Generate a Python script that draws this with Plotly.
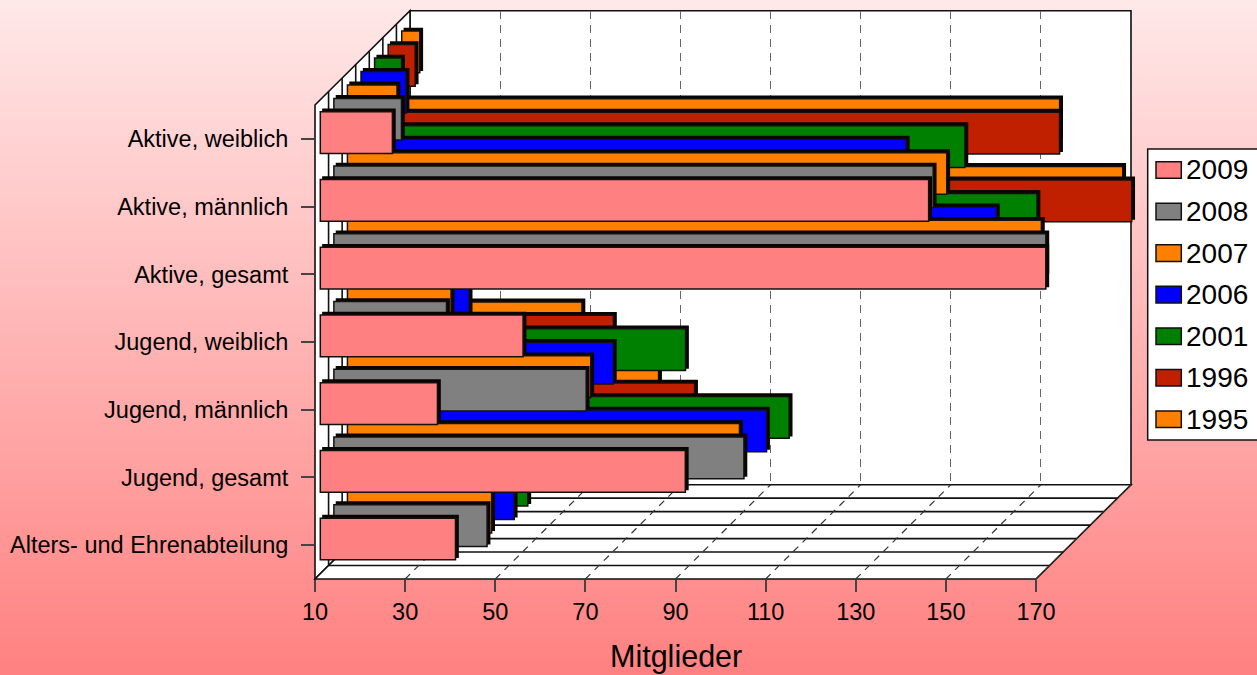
import plotly.graph_objects as go

categories = ["Alters- und Ehrenabteilung", "Jugend, gesamt", "Jugend, männlich", "Jugend, weiblich",
              "Aktive, gesamt", "Aktive, männlich", "Aktive, weiblich"]
v2009 = [40, 91, 36, 55, 171, 145, 26]
v2008 = [44, 101, 66, 35, 168, 143, 25]
v2007 = [42, 97, 64, 33, 164, 143, 21]
v2006 = [44, 100, 66, 34, 151, 131, 20]
v2001 = [44, 102, 79, 23, 157, 141, 16]
v1996 = [40, 78, 60, 18, 175, 159, 16]
v1995 = [38, 67, 50, 17, 170, 156, 14]
series_names = ["2009", "2008", "2007", "2006", "2001", "1996", "1995"]
series_values = [v2009, v2008, v2007, v2006, v2001, v1996, v1995]
colors = ["#FF8080", "#808080", "#FF8000", "#0000FF", "#008000", "#C02000", "#FF8000"]
x_ticks = [10, 30, 50, 70, 90, 110, 130, 150, 170]
x_title = "Mitglieder"

W, H = 1257, 675
FONT = "Liberation Sans"
FX0, FX1, FY0, FY1 = 315.0, 1036.0, 105.0, 579.0     # front plane (px)
DEPTH_X, DEPTH_Y = 95.0, 94.3
N = len(series_names)
STEP_X, STEP_Y = DEPTH_X / N, DEPTH_Y / N
PX_PER_UNIT = (FX1 - FX0) / (x_ticks[-1] - x_ticks[0])
CAT_H = (FY1 - FY0) / len(categories)
BAR_X0, BAR_BOTTOM_CENTER = 320.3, 539.0
BAR_W = 41.7 / CAT_H
SHADOW = 2.6


def px(x):
    return x / W


def py(y):
    return 1 - y / H


shapes = []
# background gradient: each band runs to the bottom so no seams show
G_TOP, G_BOTTOM = 232, 128
bands = G_TOP - G_BOTTOM
for k in range(bands):
    g = G_TOP - k
    shapes.append(dict(type="rect", xref="paper", yref="paper", layer="below",
                       x0=0, x1=1, y0=py(H * k / bands), y1=0,
                       fillcolor=f"rgb(255,{g},{g})", line=dict(width=0)))

EDGE = dict(color="#111111", width=1.6)
def poly(points, **kw):
    d = "M" + "L".join(f"{px(a)},{py(b)}" for a, b in points) + "Z"
    shapes.append(dict(type="path", path=d, xref="paper", yref="paper", layer="below", **kw))


def seg(a, b, c, d, line):
    shapes.append(dict(type="line", xref="paper", yref="paper", layer="below",
                       x0=px(a), y0=py(b), x1=px(c), y1=py(d), line=line))


BX0, BX1, BY0, BY1 = FX0 + DEPTH_X, FX1 + DEPTH_X, FY0 - DEPTH_Y, FY1 - DEPTH_Y
# walls and floor
poly([(BX0, BY0), (BX1, BY0), (BX1, BY1), (BX0, BY1)], fillcolor="white", line=EDGE)
poly([(FX0, FY0), (BX0, BY0), (BX0, BY1), (FX0, FY1)], fillcolor="white", line=EDGE)
poly([(FX0, FY1), (FX1, FY1), (BX1, BY1), (BX0, BY1)], fillcolor="white", line=EDGE)
for k in range(1, N):
    dx, dy = STEP_X * k, STEP_Y * k
    seg(FX0 + dx, FY0 - dy, FX0 + dx, FY1 - dy, EDGE)        # left wall
    seg(FX0 + dx, FY1 - dy, FX1 + dx, FY1 - dy, EDGE)        # floor
for t in x_ticks[1:]:
    fx = FX0 + (t - x_ticks[0]) * PX_PER_UNIT
    seg(fx, FY1, fx + DEPTH_X, BY1, dict(color="#333333", width=1.2, dash="7px,6px"))

# legend (drawn to match the boxed legend of the reference)
LX0, LY0, LY1 = 1147.7, 149.0, 440.0
shapes.append(dict(type="rect", xref="paper", yref="paper", layer="below",
                   x0=px(LX0), x1=1.01, y0=py(LY0), y1=py(LY1),
                   fillcolor="white", line=dict(color="#111111", width=1.5)))
annotations = [dict(xref="paper", yref="paper", x=px(675.5), y=py(656), text=x_title,
                    showarrow=False, xanchor="center", yanchor="middle",
                    font=dict(family=FONT, size=30.5, color="black"))]
for i, name in enumerate(series_names):
    yc = 170 + 41.55 * i
    shapes.append(dict(type="rect", xref="paper", yref="paper", layer="below",
                       x0=px(1156), x1=px(1181.3), y0=py(yc - 8.3), y1=py(yc + 8.3),
                       fillcolor=colors[i], line=dict(color="#111111", width=1.5)))
    annotations.append(dict(xref="paper", yref="paper", x=px(1217), y=py(yc), text=name,
                            showarrow=False, xanchor="center", yanchor="middle",
                            font=dict(family=FONT, size=28, color="black")))

layout = dict(
    width=W, height=H, margin=dict(l=0, r=0, t=0, b=0, autoexpand=False),
    paper_bgcolor="rgba(0,0,0,0)", plot_bgcolor="rgba(0,0,0,0)",
    showlegend=False, barmode="overlay", shapes=shapes, annotations=annotations,
    font=dict(family=FONT, color="black"),
    # front axes: ticks and labels
    xaxis=dict(domain=[px(FX0), px(FX1)], range=[x_ticks[0], x_ticks[-1]], anchor="y",
               tickmode="array", tickvals=x_ticks, ticks="outside", ticklen=12, tickwidth=1.5,
               tickcolor="#444444", showgrid=False, zeroline=False, showline=False,
               tickfont=dict(family=FONT, size=23.5, color="black")),
    yaxis=dict(domain=[py(FY1), py(FY0)], range=[-0.5, len(categories) - 0.5], anchor="x",
               tickmode="array", tickvals=list(range(len(categories))), ticktext=categories,
               ticks="outside", ticklen=13, tickwidth=1.5, tickcolor="#444444",
               showgrid=False, zeroline=False, showline=False, ticklabelstandoff=8,
               tickfont=dict(family=FONT, size=23.5, color="black")),
    # back wall: dashed grid lines
    xaxis2=dict(domain=[px(BX0), px(BX1)], range=[x_ticks[0], x_ticks[-1]], anchor="y2",
                tickmode="array", tickvals=x_ticks[1:-1] + [x_ticks[-1]], showticklabels=False, ticks="",
                showgrid=True, gridcolor="#666666", gridwidth=1.4, griddash="8px,6px",
                zeroline=False, showline=False),
    yaxis2=dict(domain=[py(BY1), py(BY0)], range=[0, 1], anchor="x2", showticklabels=False,
                ticks="", showgrid=False, zeroline=False, showline=False),
)

traces = [
    go.Scatter(x=[], y=[], xaxis="x", yaxis="y", showlegend=False),
    go.Scatter(x=[], y=[], xaxis="x2", yaxis="y2", showlegend=False),
]

axis_no = 3
for i in range(N - 1, -1, -1):  # back to front
    vals = series_values[i]
    lengths = [v - x_ticks[0] for v in vals]
    for shadow in (True, False):
        off = SHADOW if shadow else 0.0
        start = BAR_X0 + STEP_X * i + off
        PAD = 5
        left = start - PAD * PX_PER_UNIT
        right = W - 1
        bottom = BAR_BOTTOM_CENTER + CAT_H / 2 - STEP_Y * i - off
        top = bottom - (FY1 - FY0)
        layout[f"xaxis{axis_no}"] = dict(domain=[px(left), px(right)], anchor=f"y{axis_no}", visible=False,
                                         range=[x_ticks[0] - PAD, x_ticks[0] - PAD + (right - left) / PX_PER_UNIT])
        layout[f"yaxis{axis_no}"] = dict(domain=[py(bottom), py(top)], anchor=f"x{axis_no}", visible=False,
                                         type="category", categoryorder="array", categoryarray=categories,
                                         range=[-0.5, len(categories) - 0.5])
        traces.append(go.Bar(
            x=lengths, y=categories, base=x_ticks[0], orientation="h", width=BAR_W,
            name=series_names[i], xaxis=f"x{axis_no}", yaxis=f"y{axis_no}", showlegend=False,
            marker=dict(color="#0a0500" if shadow else colors[i],
                        line=dict(color="#0a0500" if shadow else "#111111", width=1.5)),
        ))
        axis_no += 1

fig = go.Figure(data=traces, layout=layout)
fig.write_html("out.html", config={"displayModeBar": False},
               post_script="document.body.style.margin='0';document.documentElement.style.overflow='hidden';")
